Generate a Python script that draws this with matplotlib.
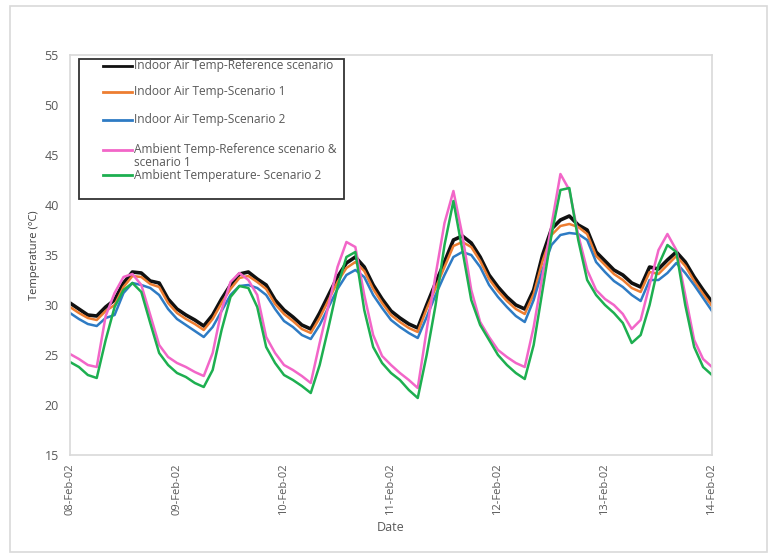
"""Indoor vs ambient temperature, 08-14 Feb 2002, five scenarios."""
import matplotlib

matplotlib.use("Agg")
import matplotlib.pyplot as plt
import matplotlib.dates as mdates
from matplotlib.patches import Rectangle
import pandas as pd

plt.rcParams["font.family"] = ["Open Sans", "DejaVu Sans"]

# 2-hourly readings, 08-Feb-02 00:00 .. 14-Feb-02 00:00
times = pd.date_range("2002-02-08", periods=73, freq="2h")

indoor_ref = [
    30.2, 29.6, 29.0, 28.9, 29.8, 30.5, 32.2, 33.3, 33.2, 32.4, 32.2, 30.6,
    29.6, 29.0, 28.5, 27.9, 29.0, 30.6, 32.0, 33.1, 33.3, 32.6, 32.0, 30.5,
    29.5, 28.8, 28.0, 27.6, 29.2, 31.0, 32.8, 34.2, 34.8, 33.8, 32.0, 30.6,
    29.4, 28.7, 28.1, 27.7, 30.0, 32.2, 34.3, 36.5, 36.9, 36.2, 34.8, 33.0,
    31.8, 30.8, 30.0, 29.6, 31.5, 35.0, 37.6, 38.5, 38.9, 38.0, 37.5, 35.3,
    34.4, 33.5, 33.0, 32.2, 31.8, 33.8, 33.6, 34.5, 35.3, 34.3, 32.8, 31.5,
    30.3,
]
indoor_s1 = [
    29.8, 29.2, 28.7, 28.5, 29.4, 30.0, 31.8, 32.9, 32.8, 32.1, 31.8, 30.2,
    29.2, 28.6, 28.1, 27.5, 28.6, 30.2, 31.6, 32.7, 32.9, 32.3, 31.6, 30.1,
    29.1, 28.4, 27.6, 27.2, 28.7, 30.5, 32.3, 33.7, 34.3, 33.4, 31.6, 30.2,
    29.0, 28.3, 27.7, 27.3, 29.6, 31.7, 33.8, 35.9, 36.3, 35.8, 34.4, 32.6,
    31.4, 30.4, 29.6, 29.1, 31.1, 34.4, 37.0, 37.9, 38.1, 37.8, 37.1, 34.9,
    34.0, 33.1, 32.5, 31.7, 31.3, 33.3, 33.1, 34.0, 34.9, 33.9, 32.4, 31.1,
    29.9,
]
indoor_s2 = [
    29.2, 28.6, 28.1, 27.9, 28.7, 29.0, 31.2, 32.2, 32.0, 31.7, 31.0, 29.6,
    28.6, 28.0, 27.4, 26.8, 27.8, 29.4, 31.0, 31.9, 32.0, 31.7, 31.0, 29.6,
    28.4, 27.8, 27.0, 26.6, 28.0, 29.8, 31.6, 33.0, 33.5, 32.8, 31.0, 29.7,
    28.5, 27.8, 27.2, 26.7, 28.8, 31.0, 33.0, 34.8, 35.3, 35.0, 33.8, 32.0,
    30.8, 29.8, 28.9, 28.3, 30.5, 33.5, 36.0, 37.0, 37.2, 37.1, 36.5, 34.3,
    33.3, 32.4, 31.8, 31.0, 30.4, 32.5, 32.5, 33.2, 34.2, 33.2, 32.0, 30.7,
    29.4,
]
ambient_ref_s1 = [
    25.1, 24.6, 24.0, 23.8, 28.9, 31.2, 32.8, 33.1, 32.0, 29.0, 26.0, 24.8,
    24.2, 23.8, 23.3, 22.9, 25.2, 29.5, 32.3, 33.2, 32.5, 31.0, 26.8, 25.2,
    24.0, 23.5, 22.9, 22.2, 26.2, 30.0, 33.8, 36.3, 35.8, 31.0, 27.0, 24.9,
    24.0, 23.2, 22.5, 21.7, 27.5, 33.0, 38.2, 41.4, 37.0, 31.5, 28.3, 26.8,
    25.5, 24.8, 24.2, 23.8, 27.8, 33.0, 38.0, 43.1, 41.5, 37.0, 33.5, 31.5,
    30.6, 30.0, 29.1, 27.6, 28.5, 32.0, 35.5, 37.1, 35.5, 31.0, 26.5, 24.6,
    23.8,
]
ambient_s2 = [
    24.3, 23.8, 23.0, 22.7, 26.5, 29.8, 31.5, 32.2, 31.3, 28.2, 25.2, 24.0,
    23.2, 22.8, 22.2, 21.8, 23.5, 27.5, 30.8, 31.9, 31.7, 29.8, 25.8, 24.2,
    23.0, 22.5, 21.9, 21.2, 24.0, 27.8, 31.8, 34.8, 35.3, 29.5, 25.8, 24.2,
    23.2, 22.5, 21.5, 20.7, 25.0, 30.0, 36.0, 40.4, 35.5, 30.5, 28.0, 26.5,
    25.0, 24.0, 23.2, 22.6, 26.0, 31.5, 37.0, 41.5, 41.7, 36.5, 32.5, 31.0,
    30.0, 29.2, 28.2, 26.2, 27.0, 30.0, 34.0, 36.0, 35.3, 30.0, 25.8, 23.8,
    23.0,
]

labels = [
    "Indoor Air Temp-Reference scenario",
    "Indoor Air Temp-Scenario 1",
    "Indoor Air Temp-Scenario 2",
    "Ambient Temp-Reference scenario &\nscenario 1",
    "Ambient Temperature- Scenario 2",
]
series = [indoor_ref, indoor_s1, indoor_s2, ambient_ref_s1, ambient_s2]
colors = ["#111111", "#ED7D31", "#2E7BC4", "#F266C8", "#1DAF50"]
widths = [2.6, 1.8, 1.8, 1.8, 1.8]

W, H = 774, 554
AX_L, AX_B, AX_W, AX_H = 70, 455, 642, 400  # pixels


def axpos(px, py):
    """pixel position (from top-left of figure) -> axes fraction"""
    return (px - AX_L) / AX_W, (AX_B - py) / AX_H


fig = plt.figure(figsize=(W / 100, H / 100), dpi=100)
ax = fig.add_axes([AX_L / W, 1 - AX_B / H, AX_W / W, AX_H / H])

for vals, c, lw in zip(series, colors, widths):
    ax.plot(times, vals, color=c, lw=lw, solid_joinstyle="round")

ax.set_xlim(pd.Timestamp("2002-02-08"), pd.Timestamp("2002-02-14"))
ax.set_ylim(15, 55)
ax.set_yticks(range(15, 56, 5))
ax.xaxis.set_major_locator(mdates.DayLocator())
ax.xaxis.set_major_formatter(mdates.DateFormatter("%d-%b-%y"))
ax.tick_params(axis="x", rotation=90, length=0, labelsize=8, colors="#595959", pad=6)
ax.tick_params(axis="y", length=0, labelsize=9, colors="#595959", pad=8)
for s in ax.spines.values():
    s.set_color("#d9d9d9")
    s.set_linewidth(1.2)

ax.set_xlabel("Date", fontsize=9, color="#595959", labelpad=4)
ax.set_ylabel("Temperature (°C)", fontsize=8, color="#404040", labelpad=3)

# legend, drawn by hand to get the Excel-like spacing
x0, y0 = axpos(79, 199)
x1, y1 = axpos(344, 59)
ax.add_patch(Rectangle((x0, y0), x1 - x0, y1 - y0, transform=ax.transAxes,
                       fill=False, edgecolor="#333333", lw=1.3, zorder=5))
rows = [66, 92, 120, 150, 175]
for lab, c, ry in zip(labels, colors, rows):
    hx0, hy = axpos(103, ry)
    hx1, _ = axpos(132, ry)
    ax.plot([hx0, hx1], [hy, hy], color=c, lw=2, transform=ax.transAxes,
            clip_on=False, zorder=6)
    tx, ty = axpos(134, ry)
    ax.text(tx, ty, lab, transform=ax.transAxes, fontsize=8.6, color="#595959",
            va="top" if "\n" in lab else "center", ha="left", linespacing=0.95,
            zorder=6)
# the two-line label starts on its handle row
ax.texts[3].set_position(axpos(134, 143))

# outer chart-area border
fig.patches.append(Rectangle((10 / W, 2 / H), 757 / W, 546 / H,
                             transform=fig.transFigure, fill=False,
                             edgecolor="#d9d9d9", lw=1.2))

fig.savefig("out.png", dpi=100)
